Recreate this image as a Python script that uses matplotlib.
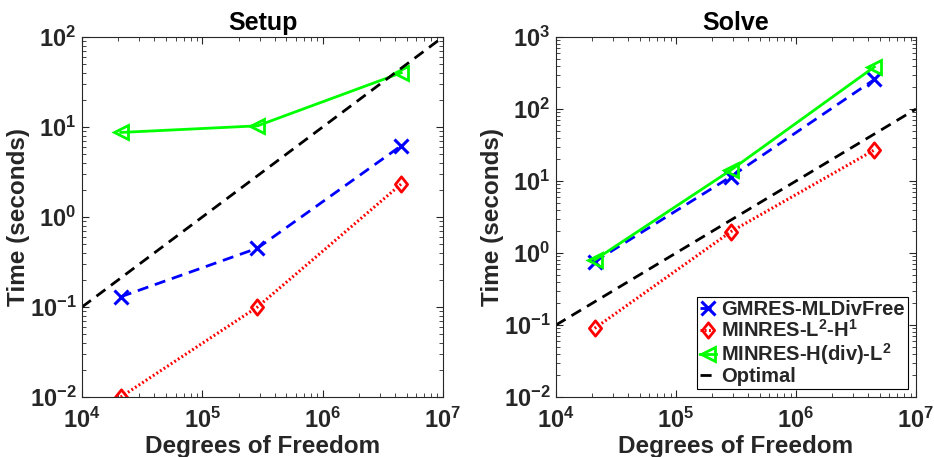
import matplotlib
matplotlib.use("Agg")
import matplotlib.pyplot as plt
from matplotlib.path import Path
import numpy as np

plt.rcParams['font.family'] = ['Liberation Sans', 'DejaVu Sans']
plt.rcParams['font.weight'] = 'bold'
plt.rcParams['mathtext.default'] = 'regular'
tc = '#262626'
plt.rcParams['text.color'] = tc
plt.rcParams['axes.labelcolor'] = tc
plt.rcParams['xtick.color'] = tc
plt.rcParams['ytick.color'] = tc
plt.rcParams['axes.edgecolor'] = tc

dofs = [2.1e4, 2.87e5, 4.5e6]

setup_gmres = [0.13, 0.45, 6.2]
setup_l2h1 = [0.01, 0.1, 2.33]
setup_hdiv = [8.7, 10.3, 40.0]

solve_gmres = [0.76, 11.5, 257]
solve_l2h1 = [0.09, 1.98, 27]
solve_hdiv = [0.80, 14.2, 385]

optimal_x = [1e4, 1e7]
optimal_y = [0.1, 100]

labels = ['GMRES-MLDivFree', 'MINRES-L$^{2}$-H$^{1}$', 'MINRES-H(div)-L$^{2}$', 'Optimal']

diamond = Path([(0, 1), (0.8, 0), (0, -1), (-0.8, 0), (0, 1)],
               [Path.MOVETO, Path.LINETO, Path.LINETO, Path.LINETO, Path.CLOSEPOLY])

fig = plt.figure(figsize=(9.34, 4.57), dpi=100)
ax1 = fig.add_axes([82/934, 1-397/457, 361/934, 360/457])
ax2 = fig.add_axes([556/934, 1-397/457, 360/934, 360/457])

def draw(ax, g, r, h, title, ylim):
    ax.loglog(dofs, g, color=(0, 0, 1), lw=2, dashes=(4, 2.5), marker='x',
              ms=9.5, mew=2.2, label=labels[0])
    ax.loglog(dofs, r, color=(1, 0, 0), lw=2.2, dashes=(0.6, 0.8), marker=diamond,
              ms=11, mew=2, mfc='none', label=labels[1])
    ax.loglog(dofs, h, color=(0, 1, 0), lw=2, ls='-', marker='<',
              ms=10, mew=2, mfc='none', label=labels[2])
    ax.loglog(optimal_x, optimal_y, color='k', lw=2, dashes=(4, 2.5), label=labels[3])
    ax.set_xlim(1e4, 1e7)
    ax.set_ylim(*ylim)
    ax.set_title(title, fontsize=18, fontweight='bold', pad=5, color='k')
    ax.set_xlabel('Degrees of Freedom', fontsize=17.5, fontweight='bold', labelpad=1)
    ax.set_ylabel('Time (seconds)', fontsize=17.5, fontweight='bold', labelpad=0)
    ax.tick_params(which='both', direction='in', top=True, right=True, labelsize=17)
    ax.tick_params(which='major', length=5, width=0.8)
    ax.tick_params(axis='x', which='major', pad=8)
    ax.tick_params(axis='y', which='major', pad=4)
    ax.tick_params(which='minor', length=3, width=0.6)
    for s in ax.spines.values():
        s.set_linewidth(0.8)

draw(ax1, setup_gmres, setup_l2h1, setup_hdiv, 'Setup', (1e-2, 1e2))
draw(ax2, solve_gmres, solve_l2h1, solve_hdiv, 'Solve', (1e-2, 1e3))

leg = ax2.legend(loc='lower right', fontsize=14.5, handlelength=0.8, handletextpad=0.25,
                 borderpad=0.15, labelspacing=0.0, fancybox=False, framealpha=1,
                 edgecolor='k', borderaxespad=0.4)
leg.get_frame().set_linewidth(0.8)

fig.savefig('out.png', dpi=100)
